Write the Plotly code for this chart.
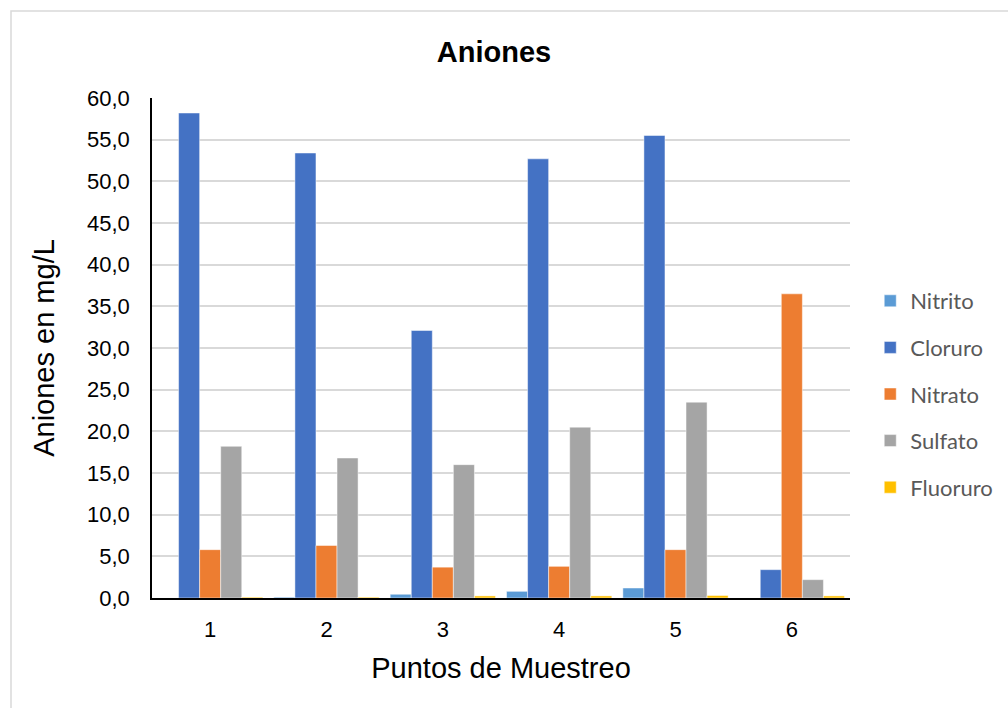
import plotly.graph_objects as go

# Sampling points and anion concentrations (mg/L)
puntos = ["1", "2", "3", "4", "5", "6"]
nitrito = [0.0, 0.1, 0.45, 0.8, 1.2, 0.0]
cloruro = [58.2, 53.4, 32.1, 52.7, 55.5, 3.4]
nitrato = [5.8, 6.3, 3.7, 3.8, 5.8, 36.5]
sulfato = [18.2, 16.8, 16.0, 20.5, 23.5, 2.2]
fluoruro = [0.1, 0.1, 0.25, 0.25, 0.3, 0.25]

series = [
    ("Nitrito", nitrito, "#5B9BD5"),
    ("Cloruro", cloruro, "#4472C4"),
    ("Nitrato", nitrato, "#ED7D31"),
    ("Sulfato", sulfato, "#A5A5A5"),
    ("Fluoruro", fluoruro, "#FFC000"),
]

fig = go.Figure()
for name, vals, color in series:
    fig.add_trace(go.Bar(
        x=puntos, y=vals, name=name, legendgroup=name,
        marker=dict(color=color, line=dict(color="rgba(255,255,255,0.6)", width=0.8)),
    ))

fig.update_layout(
    width=1008, height=708,
    margin=dict(l=152, r=158, t=98, b=110, autoexpand=False),
    paper_bgcolor="white", plot_bgcolor="white",
    barmode="group", bargap=0.095, bargroupgap=0,
    separators=",.",
    font=dict(family="Liberation Sans, Arial, sans-serif", color="#000000"),
    title=dict(text="<b>Aniones</b>", x=0.49, xanchor="center", xref="paper",
               y=1 - 52 / 708, yanchor="middle", yref="container",
               font=dict(size=29, color="#000000")),
    legend=dict(x=1.029, xanchor="left", y=0.408, yanchor="middle",
                traceorder="grouped", tracegroupgap=15,
                font=dict(family="Lato, Carlito, sans-serif", size=22, color="#595959"),
                itemwidth=30, bgcolor="rgba(0,0,0,0)"),
    showlegend=True,
)

fig.update_xaxes(
    type="category", showline=True, linecolor="#000000", linewidth=1.5,
    ticks="", showgrid=False, ticklabelstandoff=11,
    tickfont=dict(size=22, color="#000000"),
    title=dict(text="Puntos de Muestreo", font=dict(size=29, color="#000000"), standoff=17),
)
fig.update_yaxes(
    range=[0, 60], dtick=5, tickformat=".1f",
    showline=True, linecolor="#000000", linewidth=1.5,
    showgrid=True, gridcolor="#D9D9D9", gridwidth=1.5,
    ticks="", ticklabelstandoff=16, zeroline=False,
    tickfont=dict(size=22, color="#000000"),
    title=dict(text="Aniones en mg/L", font=dict(size=29, color="#000000"), standoff=24),
)

# Thin frame around the chart area
fig.add_shape(type="rect", xref="paper", yref="paper",
              x0=(11 - 152) / 698, x1=1.4, y0=-0.4, y1=(598 - 11) / 500,
              line=dict(color="#D9D9D9", width=1.5), fillcolor="rgba(0,0,0,0)", layer="below")

fig.write_html("out.html")
